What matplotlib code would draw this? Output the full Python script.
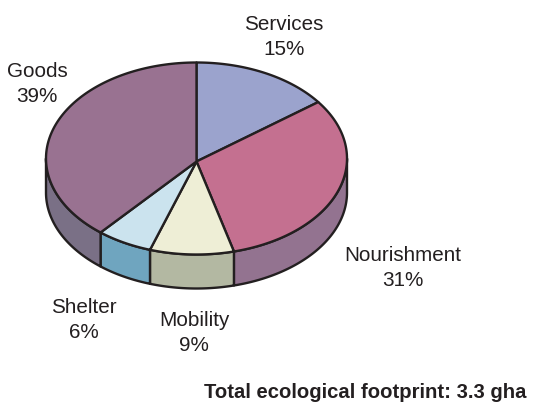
import numpy as np
import matplotlib
matplotlib.use("Agg")
import matplotlib.pyplot as plt
from matplotlib.patches import Polygon

plt.rcParams['font.family'] = ['Liberation Sans', 'DejaVu Sans']

# slices clockwise from 12 o'clock
names = ["Services", "Nourishment", "Mobility", "Shelter", "Goods"]
shares = [15, 31, 9, 6, 39]
top_colors = ["#9BA3CD", "#C47090", "#EEEED6", "#CBE3EE", "#997291"]
side_colors = ["#8A8AA8", "#937390", "#B3B8A2", "#6FA5BF", "#7A7086"]
label_pos = [(284, 37), (403, 268), (194, 333), (84, 320), (37, 84)]

cx, cy = 196.5, 158.5
rx, ry = 150.5, 96
apex_y = 161.5
depth = 34
edge = "#231F20"
lw = 1.7


def rim(a0, a1, n=120):
    t = np.radians(np.linspace(a0, a1, n))
    return cx + rx*np.sin(t), cy - ry*np.cos(t)


fig = plt.figure(figsize=(5.44, 4.03), dpi=100)
ax = fig.add_axes([0, 0, 1, 1])
ax.set_xlim(0, 544)
ax.set_ylim(403, 0)
ax.axis("off")

ends = np.cumsum(shares)*3.6
starts = ends - np.array(shares)*3.6

# side wall, only the front half of the rim shows
for a0, a1, c in zip(starts, ends, side_colors):
    lo, hi = max(a0, 90), min(a1, 270)
    if lo >= hi:
        continue
    x, y = rim(lo, hi)
    pts = np.r_[np.c_[x, y], np.c_[x[::-1], y[::-1]+depth]]
    ax.add_patch(Polygon(pts, closed=True, fc=c, ec=edge, lw=lw, joinstyle="round", zorder=1))

# top face
for a0, a1, c in zip(starts, ends, top_colors):
    x, y = rim(a0, a1)
    pts = np.r_[[[cx, apex_y]], np.c_[x, y]]
    ax.add_patch(Polygon(pts, closed=True, fc=c, ec=edge, lw=lw, joinstyle="round", zorder=2))

for n, s, (lx, ly) in zip(names, shares, label_pos):
    ax.text(lx, ly, f"{n}\n{s}%", ha="center", va="center", fontsize=14.9,
            color="#231F20", linespacing=1.4)

ax.text(526, 393, "Total ecological footprint: 3.3 gha", ha="right", va="center",
        fontsize=14.6, fontweight="bold", color="#231F20")

fig.savefig("out.png", dpi=100)
